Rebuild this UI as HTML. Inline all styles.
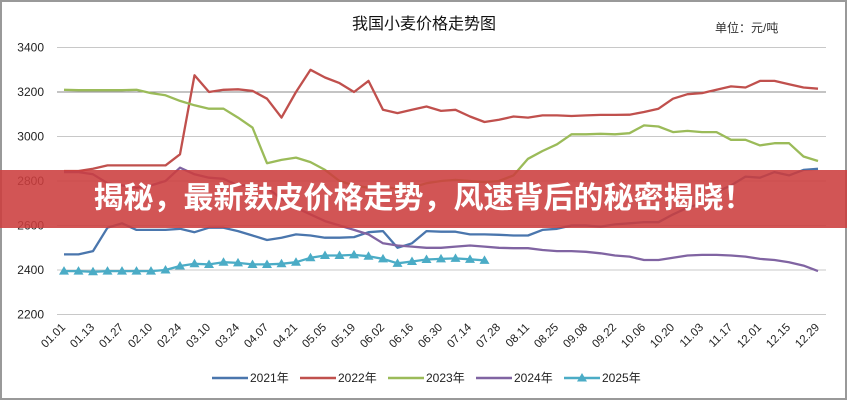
<!DOCTYPE html>
<html><head><meta charset="utf-8"><style>
html,body{margin:0;padding:0;background:#fff}
#w{position:relative;width:847px;height:400px;overflow:hidden;font-family:"Liberation Sans","Noto Sans CJK SC",sans-serif}
svg text{font-family:"Liberation Sans","Noto Sans CJK SC",sans-serif}
#ban{position:absolute;left:0;top:170px;width:847px;height:58px;background:rgba(204,62,62,0.88);color:#fff;font-weight:bold;font-size:30px;line-height:58px;text-align:center;letter-spacing:0;font-family:"Liberation Sans","Noto Sans CJK SC",sans-serif}
</style></head><body><div id="w">
<svg id="s" width="847" height="400" xmlns="http://www.w3.org/2000/svg">
<rect x="1" y="1" width="845" height="398" fill="#fff" stroke="#999" stroke-width="2"/>
<text x="424" y="29" font-size="16" text-anchor="middle" fill="#111">我国小麦价格走势图</text>
<text x="715" y="32" font-size="12" fill="#333">单位：元/吨</text>
<g id="g"></g>
</svg>
<div id="ban">揭秘，最新麸皮价格走势，风速背后的秘密揭晓！</div>
</div>
<script>
var g=document.getElementById('g'),h='';
function Y(v){return 47.5+(3400-v)*44.5/200;}
function X(i){return 64+i*14.5;}
[3400,3200,3000,2800,2600,2400,2200].forEach(function(v){
 h+='<line x1="57" x2="826" y1="'+Y(v)+'" y2="'+Y(v)+'" stroke="'+(v==3200?'#888':'#c8c8c8')+'" stroke-width="1"/>';
 h+='<text x="44" y="'+(Y(v)+4)+'" font-size="12" text-anchor="end" fill="#222">'+v+'</text>';
});
var labs=["01.01","01.13","01.27","02.10","02.24","03.10","03.24","04.07","04.21","05.05","05.19","06.02","06.16","06.30","07.14","07.28","08.11","08.25","09.08","09.22","10.06","10.20","11.03","11.17","12.01","12.15","12.29"];
labs.forEach(function(l,k){var x=X(k*2)+2,y=328;
 h+='<text transform="translate('+x+','+y+') rotate(-45)" font-size="11.5" text-anchor="end" fill="#222">'+l+'</text>';});
var d={
'#4a76ad':[2470,2470,2485,2590,2610,2580,2580,2580,2585,2570,2590,2590,2575,2555,2535,2545,2560,2555,2545,2545,2548,2570,2575,2500,2520,2575,2572,2572,2560,2560,2558,2555,2555,2580,2585,2600,2600,2595,2605,2610,2615,2615,2650,2680,2700,2750,2780,2820,2815,2840,2825,2850,2855],
'#c0504d':[2845,2845,2855,2870,2870,2870,2870,2870,2920,3275,3200,3210,3212,3205,3170,3085,3200,3300,3265,3240,3200,3250,3120,3105,3120,3135,3115,3120,3090,3065,3075,3090,3085,3095,3095,3092,3095,3097,3097,3098,3110,3125,3170,3190,3195,3210,3225,3220,3250,3250,3235,3220,3215],
'#9bbb59':[3210,3208,3208,3208,3208,3210,3195,3185,3160,3140,3125,3125,3085,3040,2880,2895,2905,2885,2850,2800,2780,2770,2775,2765,2770,2790,2800,2805,2800,2795,2800,2825,2900,2935,2965,3010,3010,3012,3010,3015,3050,3045,3020,3025,3020,3020,2985,2985,2960,2970,2970,2910,2890],
'#8064a2':[2840,2840,2830,2790,2780,2770,2780,2800,2860,2830,2815,2810,2780,2780,2770,2720,2680,2650,2620,2600,2580,2560,2520,2510,2505,2500,2500,2505,2510,2505,2500,2498,2498,2490,2485,2485,2482,2475,2465,2460,2445,2445,2455,2465,2468,2468,2465,2460,2450,2445,2435,2420,2395],
'#4bacc6':[2395,2395,2392,2395,2395,2395,2395,2400,2418,2428,2425,2435,2432,2425,2425,2428,2435,2455,2465,2465,2468,2462,2450,2430,2438,2447,2450,2452,2448,2443]};
for(var c in d){var p=d[c].map(function(v,i){return X(i).toFixed(1)+','+Y(v).toFixed(1)}).join(' ');
 h+='<polyline points="'+p+'" fill="none" stroke="'+c+'" stroke-width="2.3" stroke-linejoin="round"/>';
 if(c=='#4bacc6')d[c].forEach(function(v,i){var x=X(i),y=Y(v);h+='<polygon points="'+x+','+(y-5)+' '+(x+5)+','+(y+3.5)+' '+(x-5)+','+(y+3.5)+'" fill="#4bacc6"/>';});}
var leg=[['#4a76ad','2021年',212],['#c0504d','2022年',300],['#9bbb59','2023年',388],['#8064a2','2024年',476],['#4bacc6','2025年',564]];
leg.forEach(function(l){h+='<line x1="'+l[2]+'" x2="'+(l[2]+36)+'" y1="378" y2="378" stroke="'+l[0]+'" stroke-width="2.5"/>';
 if(l[0]=='#4bacc6')h+='<polygon points="'+(l[2]+18)+',373 '+(l[2]+23)+',381.5 '+(l[2]+13)+',381.5" fill="#4bacc6"/>';
 h+='<text x="'+(l[2]+38)+'" y="382" font-size="12" fill="#222">'+l[1]+'</text>';});
g.innerHTML=h;
</script></body></html>
